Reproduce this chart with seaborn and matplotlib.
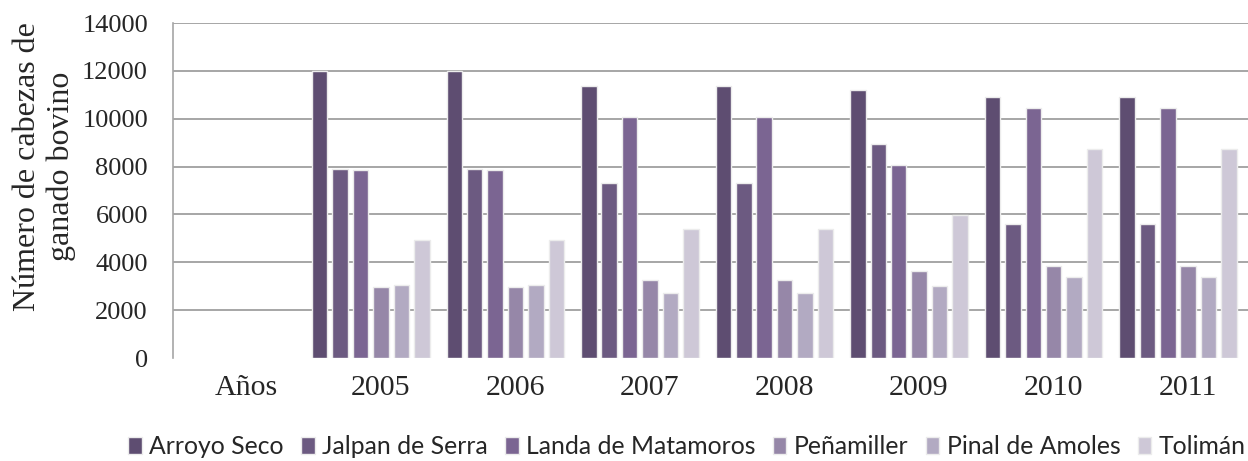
# Imports
import numpy as np
import pandas as pd
import matplotlib.pyplot as plt
import matplotlib.transforms as mtransforms
import seaborn as sns

# data
categorias = ['Años', '2005', '2006', '2007', '2008', '2009', '2010', '2011']
anios = ['2005', '2006', '2007', '2008', '2009', '2010', '2011']
municipios = ['Arroyo Seco', 'Jalpan de Serra', 'Landa de Matamoros',
              'Peñamiller', 'Pinal de Amoles', 'Tolimán']

arroyo_seco = [12000, 12000, 11380, 11380, 11200, 10900, 10900]
jalpan_de_serra = [7900, 7900, 7300, 7300, 8950, 5600, 5600]
landa_de_matamoros = [7850, 7850, 10080, 10080, 8060, 10450, 10450]
penamiller = [2980, 2980, 3250, 3250, 3620, 3830, 3830]
pinal_de_amoles = [3070, 3070, 2710, 2710, 3030, 3400, 3400]
toliman = [4950, 4950, 5380, 5380, 5970, 8740, 8740]

colores = ['#5d4777', '#6b5388', '#7b5e99', '#9581ae', '#b1a6c6', '#cdc5d9']

#
series = [arroyo_seco, jalpan_de_serra, landa_de_matamoros,
          penamiller, pinal_de_amoles, toliman]
rows = []
for mun, vals in zip(municipios, series):
    for a, v in zip(anios, vals):
        rows.append({'Año': a, 'Municipio': mun, 'Cabezas': v})
df = pd.DataFrame(rows)

sns.set_style('white')

fig = plt.figure(figsize=(12.48, 4.61), dpi=100)
ax = fig.add_axes([0.1386, 0.2234, 0.8614, 0.7266])

sns.barplot(data=df, x='Año', y='Cabezas', hue='Municipio',
            order=categorias, hue_order=municipios, palette=colores,
            width=0.91, gap=0.24, edgecolor='#ececec', linewidth=1.0,
            ax=ax, legend=True)

ax.set_ylim(0, 14000)
ax.set_xlim(-0.47, 7.52)
ax.set_yticks(np.arange(0, 14001, 2000))
ax.set_yticklabels([str(v) for v in range(0, 14001, 2000)],
                   family='Liberation Serif', fontsize=19)
ax.set_xticks(range(len(categorias)))
ax.set_xticklabels(categorias, family='Liberation Serif', fontsize=21.5)

ax.yaxis.grid(True, color='#a6a6a6', linewidth=1.4)
ax.set_axisbelow(True)
ax.yaxis.get_gridlines()[0].set_visible(False)

for s in ['top', 'right', 'bottom']:
    ax.spines[s].set_visible(False)
ax.spines['left'].set_color('#a6a6a6')
ax.spines['left'].set_linewidth(1.2)

ax.tick_params(axis='y', direction='in', length=10, width=1.2,
               color='#a6a6a6', pad=18)
ax.tick_params(axis='x', length=0, pad=12)

# Excel puts the category labels a bit to the right
offset = mtransforms.ScaledTranslation(10 / 100, 0, fig.dpi_scale_trans)
for lab in ax.get_xticklabels():
    lab.set_transform(lab.get_transform() + offset)

ax.set_xlabel('')
ax.set_ylabel('Número de cabezas de\nganado bovino', family='Liberation Serif',
              fontsize=23, linespacing=1.2, va='center')
ax.yaxis.set_label_coords(-0.1195, 0.573)

handles, labels = ax.get_legend_handles_labels()
ax.legend_.remove()
fig.legend(handles, labels, loc='center', bbox_to_anchor=(0.5505, 0.031),
           ncol=6, frameon=False, handlelength=0.55, handleheight=0.65,
           handletextpad=0.3, columnspacing=0.7,
           prop={'family': 'Lato', 'size': 17.8})

fig.savefig('out.png', dpi=100)
